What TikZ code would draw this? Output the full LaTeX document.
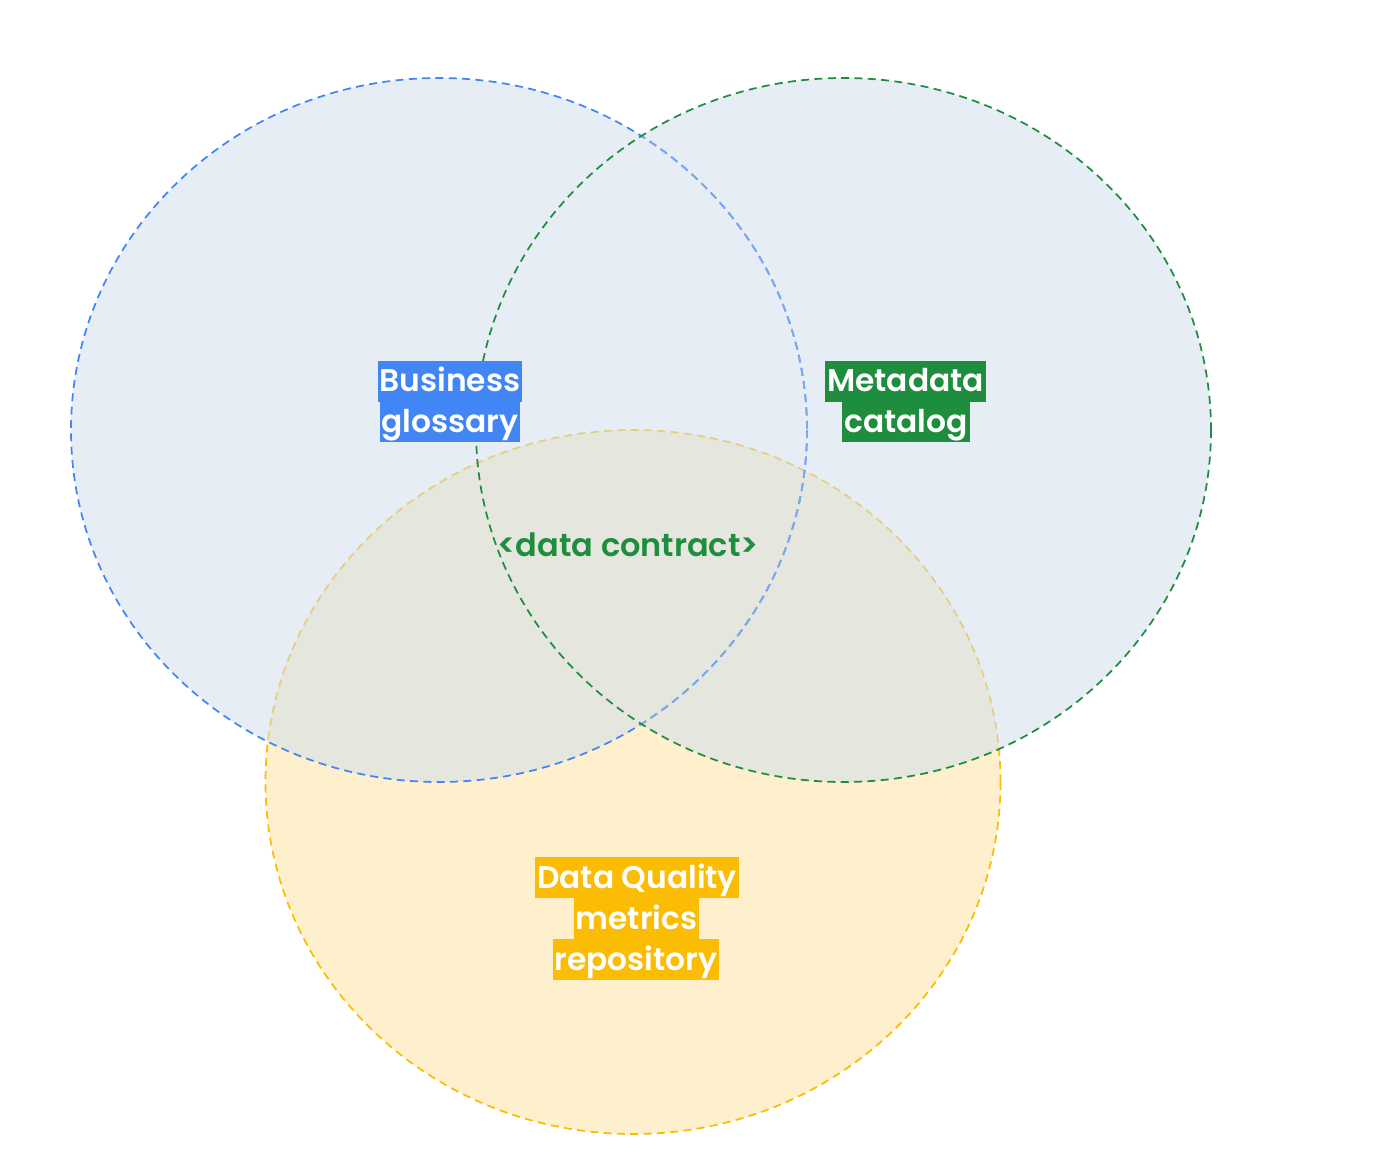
\documentclass[tikz,border=0pt]{standalone}
\usepackage{fontspec}
\setmainfont{Poppins}[BoldFont={Poppins SemiBold}]
\definecolor{gblue}{HTML}{4285F4}
\definecolor{ggreen}{HTML}{1E8E3E}
\definecolor{gyellow}{HTML}{FBBC04}
\definecolor{cfill}{HTML}{D2DEEB}
\definecolor{yfill}{HTML}{FEF0CD}
\tikzset{
  ring/.style={line width=1.3pt, dash pattern=on 6pt off 4pt},
  lbl/.style={text=white, font=\fontsize{23.5}{28}\selectfont\bfseries, inner xsep=1.5pt, inner ysep=0pt, text height=23.25pt, text depth=7.5pt},
  mid/.style={text=ggreen, font=\fontsize{24}{28}\selectfont\bfseries, inner sep=0pt}
}
\begin{document}
\begin{tikzpicture}[x=0.75pt,y=-0.75pt]
\useasboundingbox (0,0) rectangle (1400,1163);
% yellow
\path[fill=yfill] (633,782) ellipse [x radius=367.5, y radius=352];
\draw[ring, gyellow] (633,782) ellipse [x radius=367.5, y radius=352];
% blue and green fills, not compounding
\begin{scope}[transparency group, opacity=0.55]
\path[fill=cfill] (439,430) ellipse [x radius=368, y radius=352];
\path[fill=cfill] (843.5,430) ellipse [x radius=367.5, y radius=352];
\end{scope}
\draw[ring, gblue] (439,430) ellipse [x radius=368, y radius=352];
\begin{scope}
\clip (843.5,430) ellipse [x radius=367.5, y radius=352];
\draw[ring, gblue!60!cfill] (439,430) ellipse [x radius=368, y radius=352];
\end{scope}
\draw[ring, ggreen] (843.5,430) ellipse [x radius=367.5, y radius=352];
% labels
\node[lbl, fill=gblue] (b1) at (450,381) {Business};
\node[lbl, fill=gblue] (b2) at (450,421.5) {glossary};
\node[lbl, fill=ggreen] (m1) at (905.5,381) {Metadata};
\node[lbl, fill=ggreen] (m2) at (906,421.5) {catalog};
\node[mid] (dc) at (628,545) {<data contract>};
\node[lbl, fill=gyellow] (q1) at (637,877.5) {Data Quality};
\node[lbl, fill=gyellow] (q2) at (636.5,918.5) {metrics};
\node[lbl, fill=gyellow] (q3) at (636,959.5) {repository};
\end{tikzpicture}
\end{document}
